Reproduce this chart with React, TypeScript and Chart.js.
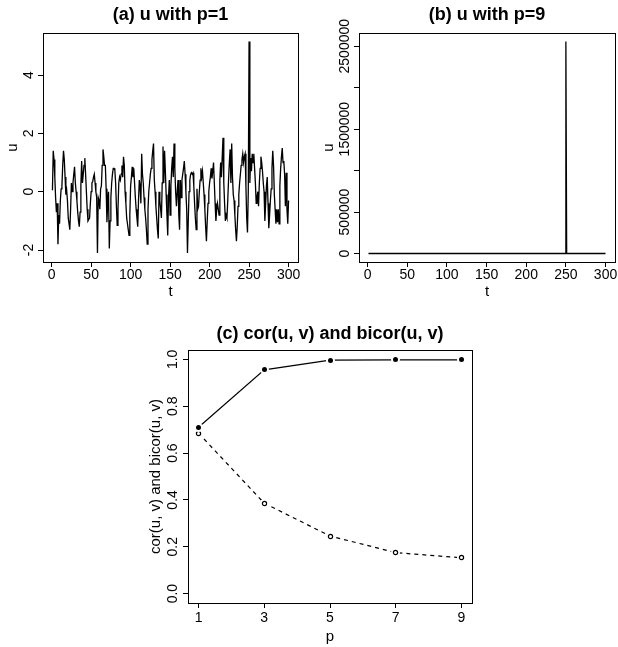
import React, { useEffect, useRef } from "react";
import { Chart, registerables } from "chart.js";
Chart.register(...registerables);

const FONT = '"Liberation Sans", Arial, Helvetica, sans-serif';

// ---------- data ----------
const tAxis = Array.from({ length: 300 }, (_, i) => i + 1);

const uP1 = [
  0.05, 1.4, 1.1, 0.5, -0.2, -0.7, -0.4, -1.8, -0.8, -1.1,
  -0.3, 0.1, 0.2, 0.9, 1.4, 1.1, 0.5, -0.1, 0.05, -0.3,
  -0.9, -1.1, -1.3, -0.6, 0.3, 0.0, 0.3, 0.6, 0.85, 0.3,
  0.0, -0.3, -0.7, -1.0, -1.2, -0.7, 0.2, 1.05, 0.3, 0.6,
  0.9, 1.15, 0.6, 0.0, -0.6, -1.0, -0.95, -0.9, -0.4, 0.0,
  0.3, 0.35, 0.5, 0.6, 0.3, 0.0, -0.2, -2.1, -0.2, -0.3,
  -0.6, 0.1, 0.2, 0.9, 1.45, 1.2, 0.9, 0.9, 0.1, -1.05,
  -0.4, 0.0, -1.95, -1.0, -0.2, 0.3, 0.6, 0.8, 0.8, 0.75,
  0.3, -0.5, -1.15, -0.6, 0.3, 0.5, 0.4, 0.6, 0.9, 0.5,
  1.2, 0.9, 0.0, -0.4, -0.9, -1.1, -1.3, -1.5, -0.8, 0.2,
  0.5, 0.85, 0.5, 0.8, 0.3, -0.2, -0.6, -0.9, -1.2, -0.3,
  0.4, 0.2, -0.4, 1.3, 0.6, 0.3, -0.2, -0.6, -0.9, -1.3,
  -1.8, -0.6, 0.0, 0.3, 0.6, 0.8, 1.1, 1.4, 1.65, 0.4,
  0.0, -0.5, -0.9, -1.3, -1.6, 0.0, -0.3, -0.6, -0.9, 0.3,
  1.55, 0.3, 1.4, 0.7, -0.1, -0.8, -1.5, -0.2, 0.4, -0.8,
  0.2, 0.8, 1.2, 0.5, 1.65, 0.8, 0.0, -0.5, 0.0, 0.4,
  -0.8, -1.3, 0.4, -0.2, 0.4, 0.6, 0.8, 1.05, 0.6, 0.0,
  -0.6, -2.1, -1.0, 0.0, 0.4, 0.6, 0.65, 0.6, 0.65, 0.2,
  -0.4, -0.9, -1.3, 0.1, -0.6, -0.5, 0.0, 0.4, 0.8, 0.5,
  0.7, 0.3, -0.1, -0.6, -1.2, -1.7, -1.0, -0.4, 0.0, 0.3,
  0.5, 0.8, 0.45, 0.7, 1.0, 0.3, -0.4, -1.0, -0.6, -0.4,
  -0.6, -0.8, 0.4, 1.0, 0.5, 1.2, 1.85, 0.3, -0.4, -1.0,
  -0.8, -0.9, -0.3, 0.4, 1.0, 1.45, 0.3, 1.65, 0.5, -0.1,
  -0.3, -0.8, -1.3, -1.7, -1.2, -0.5, -0.1, 0.3, 0.6, 0.9,
  1.1, 1.3, 1.0, 1.2, 1.3, 0.2, -0.9, -1.4, 0.0, 5.15,
  0.3, 1.15, 0.7, 1.3, 1.0, 1.3, 0.8, 0.3, -0.4, -0.2,
  0.0, -0.5, 0.3, 0.8, 1.2, 1.0, 0.7, 0.3, 0.0, -1.0,
  -0.4, 0.2, 0.5, -0.4, -1.25, -0.8, -0.3, 0.1, 0.8, 1.4,
  0.9, -0.1, -0.6, -1.1, -0.6, -1.05, -0.6, -1.1, 0.2, 0.8,
  1.2, 1.5, 1.0, 1.05, 0.6, -0.5, 0.65, -0.6, -1.1, -0.3,
];

const tP9 = [1, 249, 250, 251, 300];
const uP9 = [0, 0, 2557000, 0, 0];

const pValues = [1, 3, 5, 7, 9];
const corValues = [0.71, 0.955, 0.997, 0.998, 0.998];
const bicorValues = [0.685, 0.386, 0.246, 0.175, 0.153];

// ---------- ticks ----------
const aXTicks = [0, 50, 100, 150, 200, 250, 300];
const aXLabels = ["0", "50", "100", "150", "200", "250", "300"];
const aYTicks = [-2, 0, 2, 4];
const aYLabels = ["-2", "0", "2", "4"];
const bYTicks = [0, 500000, 1000000, 1500000, 2000000, 2500000];
const bYLabels = ["0", "500000", "", "1500000", "", "2500000"];
const cXTicks = [1, 3, 5, 7, 9];
const cXLabels = ["1", "3", "5", "7", "9"];
const cYTicks = [0, 0.2, 0.4, 0.6, 0.8, 1.0];
const cYLabels = ["0.0", "0.2", "0.4", "0.6", "0.8", "1.0"];

type FrameCfg = {
  title: string;
  xTitle: string;
  yTitle: string;
  xTicks: number[];
  xLabels: string[];
  yTicks: number[];
  yLabels: string[];
  titleOff: number;
  xTickOff: number;
  xTitleOff: number;
  yTickOff: number;
  yTitleOff: number;
};

function framePlugin(f: FrameCfg) {
  return {
    id: "rFrame",
    beforeDatasetsDraw(chart: any) {
      chart.ctx.imageSmoothingEnabled = false;
    },
    afterDraw(chart: any) {
      const { ctx, chartArea: ca } = chart;
      const xs = chart.scales.x;
      const ys = chart.scales.y;
      ctx.save();
      ctx.strokeStyle = "#000";
      ctx.lineWidth = 1;
      ctx.strokeRect(ca.left + 0.5, ca.top + 0.5, ca.right - ca.left, ca.bottom - ca.top);
      ctx.fillStyle = "#000";
      ctx.textAlign = "center";
      ctx.textBaseline = "alphabetic";
      ctx.font = `14px ${FONT}`;
      f.xLabels.forEach((lab, i) => {
        if (!lab) return;
        ctx.fillText(lab, xs.getPixelForValue(f.xTicks[i]), ca.bottom + f.xTickOff);
      });
      f.yLabels.forEach((lab, i) => {
        if (!lab) return;
        ctx.save();
        ctx.translate(ca.left - f.yTickOff, ys.getPixelForValue(f.yTicks[i]));
        ctx.rotate(-Math.PI / 2);
        ctx.fillText(lab, 0, 0);
        ctx.restore();
      });
      ctx.font = `bold 18px ${FONT}`;
      ctx.fillText(f.title, (ca.left + ca.right) / 2, ca.top - f.titleOff);
      ctx.font = `15px ${FONT}`;
      ctx.fillText(f.xTitle, (ca.left + ca.right) / 2, ca.bottom + f.xTitleOff);
      ctx.save();
      ctx.translate(ca.left - f.yTitleOff, (ca.top + ca.bottom) / 2);
      ctx.rotate(-Math.PI / 2);
      ctx.fillText(f.yTitle, 0, 0);
      ctx.restore();
      ctx.restore();
    },
  };
}

function axis(min: number, max: number, ticks: number[], size: number) {
  return {
    type: "linear",
    min,
    max,
    afterBuildTicks: (s: any) => {
      s.ticks = ticks.map((v) => ({ value: v }));
    },
    afterFit: (s: any) => {
      if (s.isHorizontal()) s.height = size;
      else s.width = size;
    },
    grid: {
      display: true,
      drawOnChartArea: false,
      drawTicks: true,
      tickLength: 5,
      color: "#000",
      lineWidth: 1,
    },
    border: { display: false },
    ticks: { display: false },
  };
}

function baseOptions(padding: any, x: any, y: any) {
  return {
    responsive: false,
    animation: false,
    devicePixelRatio: 1,
    events: [],
    layout: { padding },
    plugins: {
      legend: { display: false },
      title: { display: false },
      tooltip: { enabled: false },
    },
    scales: { x, y },
  };
}

function pointImg(filled: boolean) {
  const c = document.createElement("canvas");
  c.width = 11;
  c.height = 11;
  const g = c.getContext("2d")!;
  g.fillStyle = "#fff";
  g.beginPath();
  g.arc(5.5, 5.5, 4.5, 0, Math.PI * 2);
  g.fill();
  g.beginPath();
  g.arc(5.5, 5.5, filled ? 2.5 : 2.1, 0, Math.PI * 2);
  if (filled) {
    g.fillStyle = "#000";
    g.fill();
  } else {
    g.strokeStyle = "#000";
    g.lineWidth = 1.2;
    g.stroke();
  }
  return c;
}

export default function App() {
  const aRef = useRef<HTMLCanvasElement>(null);
  const bRef = useRef<HTMLCanvasElement>(null);
  const cRef = useRef<HTMLCanvasElement>(null);

  useEffect(() => {
    const charts: Chart[] = [];

    charts.push(
      new Chart(aRef.current!, {
        type: "line",
        data: {
          datasets: [
            {
              data: uP1.map((u, i) => ({ x: tAxis[i], y: u })),
              borderColor: "#000",
              borderWidth: 1.3,
              pointRadius: 0,
              tension: 0,
              fill: false,
            },
          ],
        },
        options: baseOptions(
          { left: 13, top: 33, right: 11, bottom: 8 },
          axis(-10.96, 311.96, aXTicks, 30),
          axis(-2.41, 5.44, aYTicks, 30)
        ) as any,
        plugins: [
          framePlugin({
            title: "(a) u with p=1",
            xTitle: "t",
            yTitle: "u",
            xTicks: aXTicks,
            xLabels: aXLabels,
            yTicks: aYTicks,
            yLabels: aYLabels,
            titleOff: 13,
            xTickOff: 17,
            xTitleOff: 34,
            yTickOff: 10,
            yTitleOff: 26,
          }),
        ],
      })
    );

    charts.push(
      new Chart(bRef.current!, {
        type: "line",
        data: {
          datasets: [
            {
              data: uP9.map((u, i) => ({ x: tP9[i], y: u })),
              borderColor: "#000",
              borderWidth: 1.3,
              pointRadius: 0,
              tension: 0,
              fill: false,
            },
          ],
        },
        options: baseOptions(
          { left: 20, top: 33, right: 3, bottom: 8 },
          axis(-10.96, 311.96, aXTicks, 30),
          axis(-102300, 2659300, bYTicks, 30)
        ) as any,
        plugins: [
          framePlugin({
            title: "(b) u with p=9",
            xTitle: "t",
            yTitle: "u",
            xTicks: aXTicks,
            xLabels: aXLabels,
            yTicks: bYTicks,
            yLabels: bYLabels,
            titleOff: 13,
            xTickOff: 17,
            xTitleOff: 34,
            yTickOff: 10,
            yTitleOff: 26,
          }),
        ],
      })
    );

    const filled = pointImg(true);
    const open = pointImg(false);
    charts.push(
      new Chart(cRef.current!, {
        type: "line",
        data: {
          datasets: [
            {
              data: corValues.map((v, i) => ({ x: pValues[i], y: v })),
              borderColor: "#000",
              borderWidth: 1.2,
              pointStyle: filled,
              pointRadius: 3,
              tension: 0,
              fill: false,
            },
            {
              data: bicorValues.map((v, i) => ({ x: pValues[i], y: v })),
              borderColor: "#000",
              borderWidth: 1.2,
              borderDash: [4, 4],
              pointStyle: open,
              pointRadius: 3,
              tension: 0,
              fill: false,
            },
          ],
        },
        options: baseOptions(
          { left: 158, top: 50, right: 146, bottom: 14 },
          axis(0.68, 9.32, cXTicks, 30),
          axis(-0.04, 1.04, cYTicks, 30)
        ) as any,
        plugins: [
          framePlugin({
            title: "(c) cor(u, v) and bicor(u, v)",
            xTitle: "p",
            yTitle: "cor(u, v) and bicor(u, v)",
            xTicks: cXTicks,
            xLabels: cXLabels,
            yTicks: cYTicks,
            yLabels: cYLabels,
            titleOff: 11,
            xTickOff: 19,
            xTitleOff: 38,
            yTickOff: 11,
            yTitleOff: 28,
          }),
        ],
      })
    );

    return () => charts.forEach((c) => c.destroy());
  }, []);

  return (
    <div
      style={{
        position: "fixed",
        left: 0,
        top: 0,
        width: 618,
        height: 647,
        background: "#fff",
        overflow: "hidden",
      }}
    >
      <canvas
        ref={aRef}
        width={309}
        height={300}
        style={{ position: "absolute", left: 0, top: 0, width: 309, height: 300 }}
      />
      <canvas
        ref={bRef}
        width={309}
        height={300}
        style={{ position: "absolute", left: 309, top: 0, width: 309, height: 300 }}
      />
      <canvas
        ref={cRef}
        width={618}
        height={347}
        style={{ position: "absolute", left: 0, top: 300, width: 618, height: 347 }}
      />
    </div>
  );
}
